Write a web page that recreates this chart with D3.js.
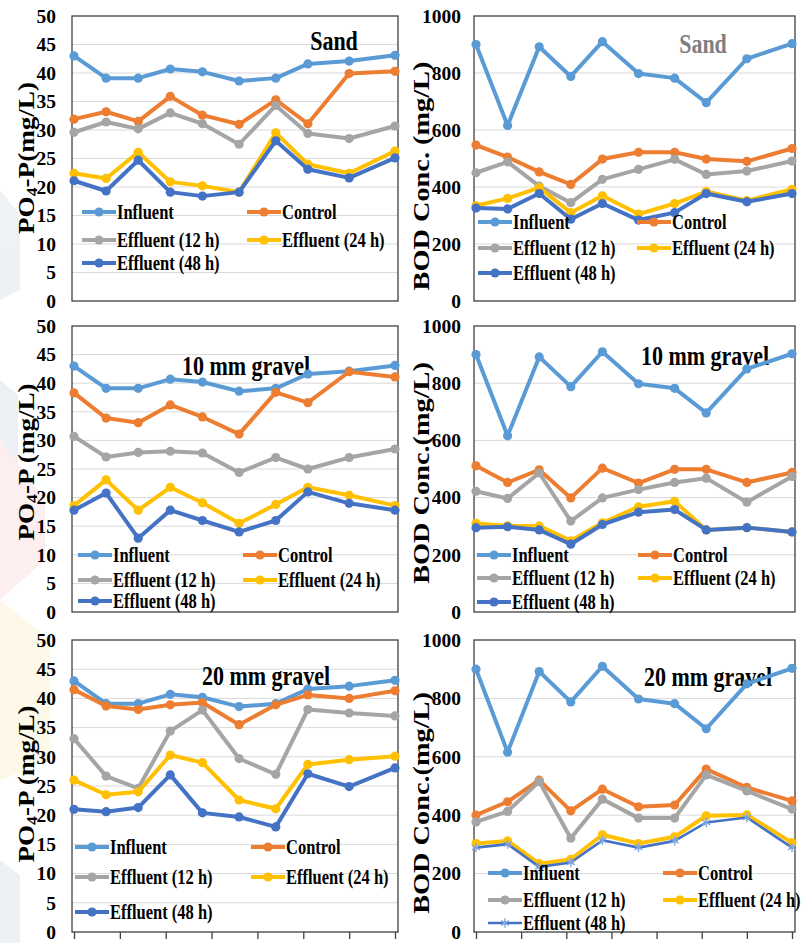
<!DOCTYPE html>
<html>
<head>
<meta charset="utf-8">
<script src="https://cdn.jsdelivr.net/npm/d3@7.9.0/dist/d3.min.js"></script>
<style>
  html, body { margin: 0; padding: 0; background: #fff; }
  svg { display: block; font-family: 'Liberation Serif', 'Times New Roman', serif; font-weight: bold; }
</style>
</head>
<body>
<svg id="chart" width="801" height="943"></svg>
<script>
// sampling days (x), same for every panel
const days = [0, 7, 14, 21, 28, 36, 44, 51, 60, 70];
const dayTicks = [0, 10, 20, 30, 40, 50, 60, 70];

const po4Ticks = [0, 5, 10, 15, 20, 25, 30, 35, 40, 45, 50];
const bodTicks = [0, 200, 400, 600, 800, 1000];

const seriesNames = ['Influent', 'Control', 'Effluent (12 h)', 'Effluent (24 h)', 'Effluent (48 h)'];
const seriesColors = ['#5B9BD5', '#ED7D31', '#A5A5A5', '#FFC000', '#4472C4'];

// PO4-P (mg/L)
const po4Influent = [43.0, 39.1, 39.1, 40.7, 40.2, 38.6, 39.1, 41.6, 42.1, 43.1];
const po4SandControl = [31.9, 33.2, 31.5, 35.9, 32.6, 31.0, 35.3, 31.1, 39.9, 40.3];
const po4Sand12h = [29.6, 31.4, 30.2, 33.0, 31.1, 27.5, 34.3, 29.4, 28.5, 30.7];
const po4Sand24h = [22.4, 21.5, 26.1, 20.9, 20.2, 19.1, 29.5, 24.0, 22.4, 26.3];
const po4Sand48h = [21.1, 19.3, 24.7, 19.1, 18.4, 19.1, 28.1, 23.1, 21.6, 25.1];

const po4G10Control = [38.3, 33.9, 33.1, 36.2, 34.1, 31.1, 38.4, 36.6, 42.0, 41.1];
const po4G10_12h = [30.7, 27.1, 27.9, 28.1, 27.8, 24.4, 27.0, 25.0, 27.0, 28.5];
const po4G10_24h = [18.6, 23.1, 17.8, 21.8, 19.1, 15.5, 18.8, 21.8, 20.4, 18.6];
const po4G10_48h = [17.8, 20.8, 12.9, 17.8, 16.0, 14.0, 16.0, 21.0, 19.0, 17.8];

const po4G20Control = [41.5, 38.7, 38.1, 38.9, 39.3, 35.5, 38.9, 40.6, 40.0, 41.3];
const po4G20_12h = [33.1, 26.7, 24.6, 34.4, 38.0, 29.7, 27.0, 38.1, 37.5, 37.0];
const po4G20_24h = [26.0, 23.5, 24.0, 30.3, 29.0, 22.6, 21.1, 28.7, 29.5, 30.1];
const po4G20_48h = [21.0, 20.6, 21.3, 26.9, 20.4, 19.7, 18.0, 27.1, 24.9, 28.1];

// BOD (mg/L)
const bodInfluent = [900, 616, 892, 788, 910, 798, 782, 696, 850, 903];
const bodSandControl = [547, 505, 453, 409, 498, 522, 522, 498, 490, 535];
const bodSand12h = [450, 488, 403, 345, 427, 462, 497, 444, 456, 491];
const bodSand24h = [334, 360, 398, 310, 369, 305, 342, 384, 352, 392];
const bodSand48h = [326, 323, 377, 287, 342, 284, 310, 377, 348, 377];

const bodG10Control = [511, 453, 497, 399, 503, 451, 499, 499, 453, 488];
const bodG10_12h = [422, 397, 486, 318, 399, 428, 453, 468, 384, 474];
const bodG10_24h = [310, 301, 301, 249, 312, 368, 387, 287, 295, 280];
const bodG10_48h = [295, 298, 287, 237, 306, 349, 358, 287, 295, 280];

const bodG20Control = [400, 446, 520, 415, 489, 429, 435, 558, 495, 449];
const bodG20_12h = [377, 413, 515, 321, 455, 390, 390, 538, 483, 421];
const bodG20_24h = [303, 312, 234, 249, 333, 303, 326, 398, 401, 306];
const bodG20_48h = [289, 301, 223, 238, 314, 289, 312, 375, 392, 289];

// layout
const COLS = [
  { x0: 74, x1: 395, labelX: 56, titleX: 26 },
  { x0: 476, x1: 792, labelX: 461, titleX: 421 },
];
const ROWS = [
  { y0: 301, y1: 16 },
  { y0: 612, y1: 326 },
  { y0: 932, y1: 640 },
];
const STRETCH = 1.2; // source figure is stretched vertically

const panels = [
  { col: 0, row: 0, title: 'Sand', titleX: 334, titleY: 50, titleColor: '#000',
    yLabel: ['PO', '4', '-P(mg/L)'], yLabelY: 158, ticks: po4Ticks,
    series: [po4Influent, po4SandControl, po4Sand12h, po4Sand24h, po4Sand48h],
    legendRows: [212, 240, 263], legendCols: [82, 247] },
  { col: 1, row: 0, title: 'Sand', titleX: 703, titleY: 53, titleColor: '#7F7F7F',
    yLabel: ['BOD Conc. (mg/L)'], yLabelY: 176, ticks: bodTicks,
    series: [bodInfluent, bodSandControl, bodSand12h, bodSand24h, bodSand48h],
    legendRows: [222, 248, 273], legendCols: [478, 637] },
  { col: 0, row: 1, title: '10 mm gravel', titleX: 246, titleY: 375, titleColor: '#000',
    yLabel: ['PO', '4', '-P (mg/L)'], yLabelY: 462, ticks: po4Ticks,
    series: [po4Influent, po4G10Control, po4G10_12h, po4G10_24h, po4G10_48h],
    legendRows: [555, 580, 601], legendCols: [78, 243] },
  { col: 1, row: 1, title: '10 mm gravel', titleX: 705, titleY: 365, titleColor: '#000',
    yLabel: ['BOD Conc.(mg/L)'], yLabelY: 473, ticks: bodTicks,
    series: [bodInfluent, bodG10Control, bodG10_12h, bodG10_24h, bodG10_48h],
    legendRows: [555, 578, 602], legendCols: [477, 638] },
  { col: 0, row: 2, title: '20 mm gravel', titleX: 266, titleY: 685, titleColor: '#000',
    yLabel: ['PO', '4', '-P (mg/L)'], yLabelY: 784, ticks: po4Ticks, xTicks: true,
    series: [po4Influent, po4G20Control, po4G20_12h, po4G20_24h, po4G20_48h],
    legendRows: [847, 877, 912], legendCols: [75, 251] },
  { col: 1, row: 2, title: '20 mm gravel', titleX: 708, titleY: 686, titleColor: '#000',
    yLabel: ['BOD Conc.(mg/L)'], yLabelY: 803, ticks: bodTicks, xTicks: true, starLast: true,
    series: [bodInfluent, bodG20Control, bodG20_12h, bodG20_24h, bodG20_48h],
    legendRows: [873, 900, 923], legendCols: [488, 663] },
];

const svg = d3.select('#chart');

// faint page watermark along the left edge
const bg = svg.append('g').attr('opacity', 0.55);
bg.append('path').attr('d', 'M0,190 L20,215 L20,290 L0,300 Z').attr('fill', '#dfe7ee');
bg.append('path').attr('d', 'M0,380 L18,395 L18,480 L0,470 Z').attr('fill', '#dfe7ee');
bg.append('path').attr('d', 'M0,440 L45,500 L45,560 L0,600 Z').attr('fill', '#fde3e3');
bg.append('path').attr('d', 'M0,600 L50,640 L50,760 L0,780 Z').attr('fill', '#fdf3d6');
bg.append('path').attr('d', 'M0,860 L20,875 L20,943 L0,943 Z').attr('fill', '#dfe7ee');

const drawMarker = (g, cx, cy, color, star) => {
  if (star) {
    g.append('path')
      .attr('d', d3.symbol(d3.symbolAsterisk || d3.symbolCross, 60)())
      .attr('transform', `translate(${cx},${cy})`)
      .attr('fill', 'none')
      .attr('stroke', '#7FA6E0')
      .attr('stroke-width', 1.4);
  } else {
    g.append('circle')
      .attr('cx', cx).attr('cy', cy).attr('r', 4.6)
      .attr('fill', color);
  }
};

panels.forEach((p) => {
  const c = COLS[p.col];
  const r = ROWS[p.row];
  const yMax = p.ticks[p.ticks.length - 1];
  const x = d3.scaleLinear().domain([days[0], days[days.length - 1]]).range([c.x0, c.x1]);
  const y = d3.scaleLinear().domain([0, yMax]).range([r.y0, r.y1]);
  const g = svg.append('g');

  // gridlines
  g.selectAll('line.grid')
    .data(p.ticks.filter((t) => t > 0 && t < yMax))
    .join('line')
    .attr('x1', x.range()[0] - 2).attr('x2', x.range()[1] + 3)
    .attr('y1', (d) => y(d)).attr('y2', (d) => y(d))
    .attr('stroke', '#D9D9D9').attr('stroke-width', 1);

  // frame
  g.append('rect')
    .attr('x', x.range()[0] - 2).attr('y', y(yMax))
    .attr('width', x.range()[1] - x.range()[0] + 5)
    .attr('height', y(0) - y(yMax))
    .attr('fill', 'none').attr('stroke', '#404040').attr('stroke-width', 1.3);

  // y axis labels
  const yAxis = g.append('g')
    .attr('transform', `translate(${c.labelX},0)`)
    .call(d3.axisLeft(y).tickValues(p.ticks).tickSize(0).tickPadding(0).tickFormat(d3.format('d')));
  yAxis.select('.domain').remove();
  yAxis.selectAll('text')
    .attr('font-family', "'Liberation Serif', serif")
    .attr('font-weight', 'bold')
    .attr('font-size', 19.5)
    .attr('fill', '#000');

  if (p.xTicks) {
    const xAxis = g.append('g')
      .attr('transform', `translate(0,${y(0)})`)
      .call(d3.axisBottom(x).tickValues(dayTicks).tickSize(7).tickFormat(''));
    xAxis.select('.domain').remove();
    xAxis.selectAll('line').attr('stroke', '#404040').attr('stroke-width', 1.3);
  }

  // y axis title
  const yt = g.append('text')
    .attr('transform', `translate(${c.titleX},${p.yLabelY}) rotate(-90) scale(1.18,1)`)
    .attr('text-anchor', 'middle')
    .attr('dominant-baseline', 'central')
    .attr('font-size', p.col === 0 ? 23 : 24)
    .attr('fill', '#000');
  if (p.yLabel.length === 3) {
    yt.append('tspan').text(p.yLabel[0]);
    yt.append('tspan').attr('font-size', 15).attr('dy', 6).text(p.yLabel[1]);
    yt.append('tspan').attr('dy', -6).text(p.yLabel[2]);
  } else {
    yt.text(p.yLabel[0]);
  }

  // panel title
  g.append('text')
    .attr('transform', `translate(${p.titleX},${p.titleY}) scale(1,${STRETCH + 0.02})`)
    .attr('text-anchor', 'middle')
    .attr('font-size', 22)
    .attr('fill', p.titleColor)
    .text(p.title);

  // series
  const line = d3.line().x((d, i) => x(days[i])).y((d) => y(d));
  p.series.forEach((vals, si) => {
    const star = p.starLast && si === 4;
    const sg = g.append('g');
    sg.append('path')
      .attr('d', line(vals))
      .attr('fill', 'none')
      .attr('stroke', seriesColors[si])
      .attr('stroke-width', star ? 2.6 : 4)
      .attr('stroke-linejoin', 'round');
    vals.forEach((v, i) => drawMarker(sg, x(days[i]), y(v), seriesColors[si], star));
  });

  // legend
  const slots = [[0, 0], [1, 0], [0, 1], [1, 1], [0, 2]];
  seriesNames.forEach((name, si) => {
    const [ci, ri] = slots[si];
    const lx = p.legendCols[ci];
    const ly = p.legendRows[ri];
    const star = p.starLast && si === 4;
    const lg = g.append('g');
    lg.append('line')
      .attr('x1', lx).attr('x2', lx + 34)
      .attr('y1', ly).attr('y2', ly)
      .attr('stroke', seriesColors[si])
      .attr('stroke-width', star ? 2.6 : 4);
    drawMarker(lg, lx + 17, ly, seriesColors[si], star);
    lg.append('text')
      .attr('transform', `translate(${lx + 35},${ly}) scale(1,1.25)`)
      .attr('dominant-baseline', 'central')
      .attr('font-size', 16.5)
      .attr('fill', '#000')
      .text(name);
  });
});
</script>
</body>
</html>
